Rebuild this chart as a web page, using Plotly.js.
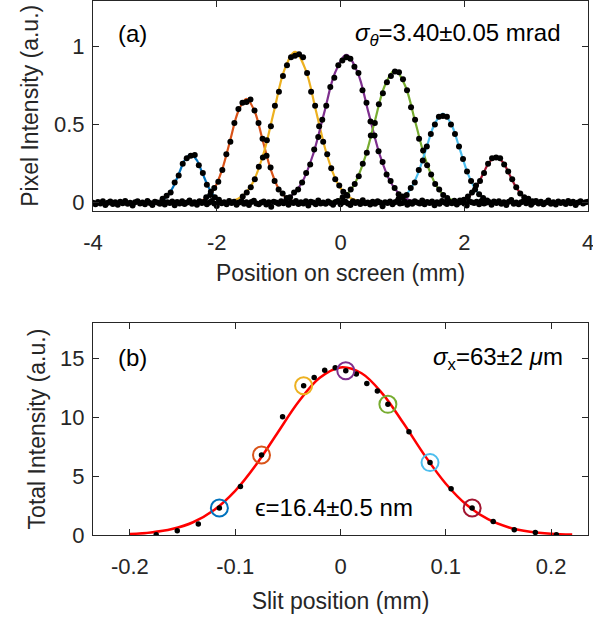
<!DOCTYPE html>
<html><head><meta charset="utf-8">
<script src="https://cdn.plot.ly/plotly-3.0.1.min.js"></script>
<style>html,body{margin:0;padding:0;background:#fff}#chart{width:593px;height:621px}</style>
</head><body><div id="chart"></div>
<script>
// ===== Panel (a): screen profiles (Position on screen, mm / Pixel intensity, a.u.) =====
const fit1X = [-3.085,-2.99,-2.895,-2.8,-2.705,-2.61,-2.515,-2.42,-2.325,-2.23,-2.135,-2.04,-1.945,-1.85,-1.755];
const fit1Y = [0.0007,0.0034,0.0136,0.0419,0.1007,0.188,0.2736,0.31,0.2736,0.188,0.1007,0.0419,0.0136,0.0034,0.0007];
const fit2X = [-2.43,-2.3,-2.17,-2.04,-1.91,-1.78,-1.65,-1.52,-1.39,-1.26,-1.13,-1.0,-0.87,-0.74,-0.61];
const fit2Y = [0.0015,0.0074,0.0292,0.09,0.2159,0.4033,0.5869,0.665,0.5869,0.4033,0.2159,0.09,0.0292,0.0074,0.0015];
const fit3X = [-1.925,-1.755,-1.585,-1.415,-1.245,-1.075,-0.905,-0.735,-0.565,-0.395,-0.225,-0.055,0.115,0.285,0.455];
const fit3Y = [0.0021,0.0107,0.0424,0.1306,0.3133,0.5853,0.8516,0.965,0.8516,0.5853,0.3133,0.1306,0.0424,0.0107,0.0021];
const fit4X = [-1.165,-0.985,-0.805,-0.625,-0.445,-0.265,-0.085,0.095,0.275,0.455,0.635,0.815,0.995,1.175,1.355];
const fit4Y = [0.0021,0.0105,0.0415,0.1279,0.3068,0.5731,0.834,0.945,0.834,0.5731,0.3068,0.1279,0.0415,0.0105,0.0021];
const fit5X = [-0.275,-0.11,0.055,0.22,0.385,0.55,0.715,0.88,1.045,1.21,1.375,1.54,1.705,1.87,2.035];
const fit5Y = [0.0019,0.0094,0.0372,0.1147,0.2753,0.5143,0.7484,0.848,0.7484,0.5143,0.2753,0.1147,0.0372,0.0094,0.0019];
const fit6X = [0.71,0.845,0.98,1.115,1.25,1.385,1.52,1.655,1.79,1.925,2.06,2.195,2.33,2.465,2.6];
const fit6Y = [0.0013,0.0063,0.025,0.0771,0.1851,0.3457,0.503,0.57,0.503,0.3457,0.1851,0.0771,0.025,0.0063,0.0013];
const fit7X = [1.745,1.855,1.965,2.075,2.185,2.295,2.405,2.515,2.625,2.735,2.845,2.955,3.065,3.175,3.285];
const fit7Y = [0.0006,0.0033,0.0129,0.0396,0.0951,0.1777,0.2586,0.293,0.2586,0.1777,0.0951,0.0396,0.0129,0.0033,0.0006];

const dots1X = [-2.875,-2.81,-2.745,-2.68,-2.615,-2.55,-2.485,-2.42,-2.355,-2.29,-2.225,-2.16,-2.095,-2.03,-1.965];
const dots1Y = [0.025,0.045,0.065,0.13,0.175,0.25,0.285,0.3,0.305,0.24,0.19,0.115,0.07,0.035,0.02];
const dots2X = [-2.17,-2.105,-2.04,-1.975,-1.91,-1.845,-1.78,-1.715,-1.65,-1.585,-1.52,-1.455,-1.39,-1.325,-1.26,-1.195,-1.13,-1.065,-1.0,-0.935,-0.87];
const dots2Y = [0.035,0.05,0.095,0.135,0.21,0.31,0.39,0.51,0.6,0.64,0.645,0.66,0.59,0.51,0.41,0.3,0.225,0.14,0.085,0.06,0.03];
const dots3X = [-1.58,-1.515,-1.45,-1.385,-1.32,-1.255,-1.19,-1.125,-1.06,-0.995,-0.93,-0.865,-0.8,-0.735,-0.67,-0.605,-0.54,-0.475,-0.41,-0.345,-0.28,-0.215,-0.15,-0.085,-0.02,0.045,0.11];
const dots3Y = [0.04,0.065,0.1,0.15,0.23,0.29,0.4,0.49,0.62,0.71,0.81,0.88,0.93,0.94,0.95,0.93,0.83,0.71,0.62,0.49,0.39,0.31,0.22,0.15,0.11,0.07,0.045];
const dots4X = [-0.815,-0.75,-0.685,-0.62,-0.555,-0.49,-0.425,-0.36,-0.295,-0.23,-0.165,-0.1,-0.035,0.03,0.095,0.16,0.225,0.29,0.355,0.42,0.485,0.55,0.615,0.68,0.745,0.81,0.875,0.94,1.005];
const dots4Y = [0.035,0.065,0.085,0.13,0.19,0.245,0.34,0.42,0.53,0.62,0.74,0.8,0.88,0.91,0.93,0.92,0.87,0.83,0.72,0.64,0.52,0.43,0.33,0.26,0.18,0.14,0.095,0.055,0.04];
const dots5X = [0.035,0.1,0.165,0.23,0.295,0.36,0.425,0.49,0.555,0.62,0.685,0.75,0.815,0.88,0.945,1.01,1.075,1.14,1.205,1.27,1.335,1.4,1.465,1.53,1.595,1.66,1.725];
const dots5Y = [0.035,0.05,0.085,0.12,0.17,0.25,0.32,0.43,0.51,0.63,0.7,0.77,0.81,0.84,0.835,0.79,0.72,0.61,0.53,0.41,0.335,0.24,0.18,0.12,0.085,0.05,0.03];
const dots6X = [0.94,1.005,1.07,1.135,1.2,1.265,1.33,1.395,1.46,1.525,1.59,1.655,1.72,1.785,1.85,1.915,1.98,2.045,2.11,2.175,2.24,2.305,2.37];
const dots6Y = [0.025,0.035,0.05,0.095,0.13,0.21,0.27,0.36,0.44,0.5,0.55,0.555,0.55,0.5,0.44,0.36,0.28,0.2,0.14,0.085,0.055,0.03,0.015];
const dots7X = [1.93,1.995,2.06,2.125,2.19,2.255,2.32,2.385,2.45,2.515,2.58,2.645,2.71,2.775,2.84,2.905,2.97,3.035,3.1];
const dots7Y = [0.015,0.02,0.04,0.065,0.11,0.14,0.19,0.25,0.285,0.29,0.285,0.245,0.2,0.15,0.1,0.06,0.035,0.025,0.01];

// background (zero-signal) pixels across the whole screen, starting at -4 mm, pitch 0.04 mm
const baseStart = -4;
const baseStep = 0.04;
const baseY = [0,-.01,.005,-.005,.01,-.015,0,.008,-.008,.003,-.012,.006,-.003,.012,-.006,0,-.018,.004,.009,-.004,
.002,-.009,.011,-.002,-.014,.007,.001,-.007,.013,-.011,.004,-.001,.008,-.016,.005,-.004,.01,-.008,.002,.015,
-.006,.003,-.013,.009,-.002,.006,-.01,.001,.012,-.005,-.02,.007,-.003,.004,-.009,.011,-.001,.006,-.012,.002,
.009,-.007,.003,-.015,.005,.013,-.004,-.009,.001,.008,-.011,.004,-.025,.006,.002,-.006,.01,-.003,.007,-.013,
.004,-.001,.012,-.008,.003,-.005,.009,-.017,.006,.001,-.01,.014,-.004,.002,-.007,.008,-.002,-.012,.005,.011,
-.009,.003,.007,-.004,-.014,.01,-.001,.005,-.008,.016,-.003,.002,-.011,.006,-.006,.009,.001,-.022,.004,-.002,
.008,-.01,.003,.012,-.005,-.001,.007,-.013,.004,-.007,.01,.002,-.004,.015,-.009,.005,-.002,.008,-.016,.003,
-.006,.011,.001,-.008,.006,-.003,.013,-.011,.002,.007,-.005,-.018,.009,.003,-.001,.006,-.009,.012,-.004,.001,
.005,-.012,.008,-.002,.01,-.007,.003,-.015,.007,.017,-.006,.002,-.01,.004,.009,-.003,.006,-.013,.001,.011,
-.004,.007,-.009,.002,.014,-.006,.004,-.011,.008,-.001,.005,-.008,.012,-.003,.006,-.014,.002,.009,-.005,.003,.007];

const peakColors = ['#0072BD','#D95319','#EDB120','#7E2F8E','#77AC30','#4DBEEE','#A2142F'];

// ===== Panel (b): total intensity vs slit position =====
const slitX = [-0.175,-0.155,-0.135,-0.115,-0.095,-0.075,-0.055,-0.035,-0.025,-0.015,-0.005,0.005,0.015,0.025,0.035,0.045,0.065,0.085,0.105,0.125,0.145,0.165,0.185,0.205];
const slitY = [0.02,0.36,0.93,2.29,4.12,6.8,10.05,12.68,13.39,14.0,14.2,13.95,13.67,12.88,12.23,11.1,8.78,6.15,3.92,2.29,1.15,0.45,0.22,0.02];
const frameX = [-0.115,-0.075,-0.035,0.005,0.045,0.085,0.125];
const frameY = [2.29,6.8,12.68,13.95,11.1,6.15,2.29];
const slitFitX = [-0.2,-0.18,-0.16,-0.14,-0.12,-0.1,-0.08,-0.06,-0.04,-0.02,0,0.02,0.04,0.06,0.08,0.1,0.12,0.14,0.16,0.18,0.2,0.22];
const slitFitY = [0.079,0.21,0.502,1.084,2.119,3.746,5.985,8.643,11.289,13.332,14.234,13.741,11.993,9.465,6.753,4.356,2.542,1.34,0.64,0.275,0.107,0.038];

// ===== build traces =====
const FONT = 'Liberation Sans, Arial, Helvetica, sans-serif';
const AX = '#262626';
const fitsX = [fit1X,fit2X,fit3X,fit4X,fit5X,fit6X,fit7X];
const fitsY = [fit1Y,fit2Y,fit3Y,fit4Y,fit5Y,fit6Y,fit7Y];
const dotsX = [dots1X,dots2X,dots3X,dots4X,dots5X,dots6X,dots7X];
const dotsY = [dots1Y,dots2Y,dots3Y,dots4Y,dots5Y,dots6Y,dots7Y];

const traces = [];
fitsX.forEach((fx, i) => {
  traces.push({x: fx, y: fitsY[i], type: 'scatter', mode: 'lines', xaxis: 'x', yaxis: 'y',
    line: {color: peakColors[i], width: 2.2, shape: 'spline', smoothing: 1}, hoverinfo: 'skip'});
});
traces.push({x0: baseStart, dx: baseStep, y: baseY, type: 'scatter', mode: 'markers', xaxis: 'x', yaxis: 'y',
  marker: {color: '#000', size: 6}});
dotsX.forEach((dxs, i) => {
  traces.push({x: dxs, y: dotsY[i], type: 'scatter', mode: 'markers', xaxis: 'x', yaxis: 'y',
    marker: {color: '#000', size: 6}});
});
traces.push({x: slitFitX, y: slitFitY, type: 'scatter', mode: 'lines', xaxis: 'x2', yaxis: 'y2',
  line: {color: '#FF0000', width: 2.5, shape: 'spline', smoothing: 1}});
traces.push({x: slitX, y: slitY, type: 'scatter', mode: 'markers', xaxis: 'x2', yaxis: 'y2',
  marker: {color: '#000', size: 5.5}});
traces.push({x: frameX, y: frameY, type: 'scatter', mode: 'markers', xaxis: 'x2', yaxis: 'y2',
  marker: {symbol: 'circle-open', size: 17, color: peakColors, line: {width: 2, color: peakColors}}});

function axis(extra) {
  return Object.assign({
    showline: true, mirror: 'ticks', linecolor: AX, linewidth: 1,
    ticks: 'inside', ticklen: 6, tickwidth: 1, tickcolor: AX,
    showgrid: false, zeroline: false, ticklabeloverflow: 'allow',
    tickfont: {family: FONT, size: 22, color: AX}
  }, extra);
}

// plot area: x 93..588 px, y 1..535 px of the 593x621 figure
const PX = (px) => (px - 93) / 495;
const PY = (py) => (535 - py) / 534;
const TXT = {family: FONT, size: 24, color: '#000'};

const layout = {
  width: 593, height: 621,
  margin: {l: 93, r: 5, t: 1, b: 86},
  paper_bgcolor: '#fff', plot_bgcolor: '#fff',
  showlegend: false,
  font: {family: FONT, color: AX},
  xaxis: axis({anchor: 'y', domain: [0, 1], range: [-4, 4], tickvals: [-4,-2,0,2,4], ticktext: ['-4','-2','0','2','4'],
    ticklabelstandoff: 12,
    title: {text: 'Position on screen (mm)', font: {family: FONT, size: 23, color: AX}, standoff: 10}}),
  yaxis: axis({anchor: 'x', domain: [0.6075, 1], range: [-0.05, 1.29], tickvals: [0, 0.5, 1], ticktext: ['0','0.5','1'],
    ticklabelstandoff: 3,
    title: {text: 'Pixel Intensity (a.u.)', font: {family: FONT, size: 23, color: AX}, standoff: 8}}),
  xaxis2: axis({anchor: 'y2', domain: [0, 1], range: [-0.235, 0.235], tickvals: [-0.2,-0.1,0,0.1,0.2], ticktext: ['-0.2','-0.1','0','0.1','0.2'],
    ticklabelstandoff: 12,
    title: {text: 'Slit position (mm)', font: {family: FONT, size: 23, color: AX}, standoff: 14}}),
  yaxis2: axis({anchor: 'x2', domain: [0, 0.3968], range: [0, 18], tickvals: [0,5,10,15], ticktext: ['0','5','10','15'],
    ticklabelstandoff: 3,
    title: {text: 'Total Intensity (a.u.)', font: {family: FONT, size: 23, color: AX}, standoff: 8}}),
  annotations: [
    {xref: 'paper', yref: 'paper', x: PX(132), y: PY(33), text: '(a)', showarrow: false, xanchor: 'center', yanchor: 'middle', font: TXT},
    {xref: 'paper', yref: 'paper', x: PX(563), y: PY(34), text: '<i>σ</i><sub><i>θ</i></sub>=3.40±0.05 mrad', showarrow: false, xanchor: 'right', yanchor: 'middle', font: TXT},
    {xref: 'paper', yref: 'paper', x: PX(132), y: PY(357), text: '(b)', showarrow: false, xanchor: 'center', yanchor: 'middle', font: TXT},
    {xref: 'paper', yref: 'paper', x: PX(565), y: PY(358), text: '<i>σ</i><sub>x</sub>=63±2 <i>μ</i>m', showarrow: false, xanchor: 'right', yanchor: 'middle', font: TXT},
    {xref: 'paper', yref: 'paper', x: PX(253), y: PY(507), text: 'ϵ=16.4±0.5 nm', showarrow: false, xanchor: 'left', yanchor: 'middle', font: TXT}
  ]
};

Plotly.newPlot('chart', traces, layout, {staticPlot: true, displayModeBar: false});
</script>
</body></html>
